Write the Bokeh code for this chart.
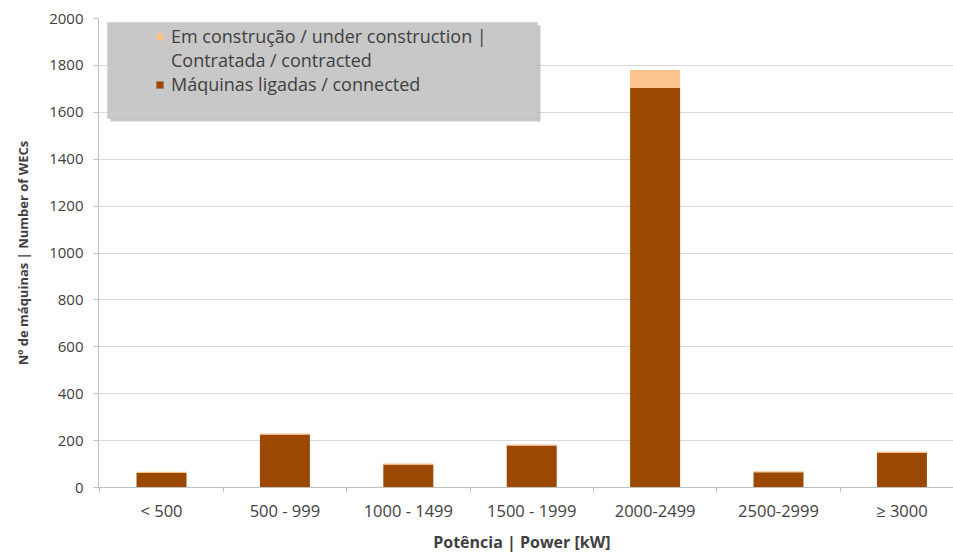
from bokeh.plotting import figure
from bokeh.models import (Range1d, FixedTicker, Legend, LegendItem, BoxAnnotation,
                          ColumnDataSource)
from bokeh.embed import file_html
from bokeh.resources import INLINE

# ---- data ----
categories = ["< 500", "500 - 999", "1000 - 1499", "1500 - 1999",
              "2000-2499", "2500-2999", "\u2265 3000"]
connected = [62, 226, 98, 179, 1705, 65, 148]
under_construction = [5, 4, 4, 4, 75, 4, 6]
y_ticks = [0, 200, 400, 600, 800, 1000, 1200, 1400, 1600, 1800, 2000]

label_construction = "Em constru\u00e7\u00e3o / under construction |"
label_contracted = "Contratada / contracted"
label_connected = "M\u00e1quinas ligadas / connected"

BROWN = "#9a4802"
PEACH = "#fbc38e"
TEXT = "#404040"
FONT = "Open Sans"

x = list(range(len(categories)))
source = ColumnDataSource(dict(x=x, connected=connected, construction=under_construction))

p = figure(width=953, height=556, output_backend="svg", toolbar_location=None,
           x_range=Range1d(-0.5105, 6.418), y_range=Range1d(0, 2000),
           min_border_left=98, min_border_right=0, min_border_top=18,
           min_border_bottom=69)
p.outline_line_color = None
p.background_fill_color = "white"
p.border_fill_color = "white"

rs = p.vbar_stack(["connected", "construction"], x="x", width=0.405, source=source,
                  fill_color=[BROWN, PEACH], line_color=None)

# axes
p.xaxis.ticker = FixedTicker(ticks=x, minor_ticks=[i - 0.5 for i in range(len(categories) + 1)])
p.xaxis.major_label_overrides = {i: c for i, c in enumerate(categories)}
p.xaxis.major_tick_out = 0
p.xaxis.major_tick_in = 0
p.xaxis.minor_tick_out = 5
p.xaxis.minor_tick_in = 0
p.xaxis.minor_tick_line_color = "#bfbfbf"
p.xaxis.axis_line_color = "#bfbfbf"
p.xaxis.major_label_standoff = 6
p.xaxis.axis_label = "Pot\u00eancia  |  Power [kW]"
p.xaxis.axis_label_standoff = 6

p.yaxis.ticker = FixedTicker(ticks=y_ticks)
p.yaxis.major_tick_out = 5
p.yaxis.major_tick_in = 0
p.yaxis.major_tick_line_color = "#bfbfbf"
p.yaxis.axis_line_color = "#bfbfbf"
p.yaxis.major_label_standoff = 10
p.yaxis.axis_label = "N\u00ba de m\u00e1quinas | Number of WECs"
p.yaxis.axis_label_standoff = 14

for ax in (p.xaxis[0], p.yaxis[0]):
    ax.major_label_text_font = FONT
    ax.major_label_text_color = TEXT
    ax.axis_label_text_font = FONT
    ax.axis_label_text_font_style = "bold"
    ax.axis_label_text_color = TEXT
p.xaxis.major_label_text_font_size = "16.5px"
p.yaxis.major_label_text_font_size = "15px"
p.xaxis.axis_label_text_font_size = "16px"
p.yaxis.axis_label_text_font_size = "13px"

p.xgrid.visible = False
p.ygrid.ticker = FixedTicker(ticks=y_ticks)
p.ygrid.grid_line_color = "#d9d9d9"

# legend box (gray panel with shadow)
shadow = BoxAnnotation(left=-0.414, right=3.071, top=1970, bottom=1561,
                       fill_color="#9a9a9a", fill_alpha=0.55, line_color=None)
panel = BoxAnnotation(left=-0.438, right=3.047, top=1983, bottom=1574,
                      fill_color="#c8c8c8", fill_alpha=1.0, line_color="#b4b4b4",
                      line_width=1)
p.add_layout(shadow)
p.add_layout(panel)

legend = Legend(items=[
    LegendItem(label=label_construction, renderers=[rs[1]]),
    LegendItem(label=label_contracted, renderers=[]),
    LegendItem(label=label_connected, renderers=[rs[0]]),
], location=(57, 391), background_fill_alpha=0, border_line_color=None,
    padding=0, margin=0, spacing=0, glyph_width=9, glyph_height=9,
    label_standoff=7, label_height=23, label_text_font=FONT,
    label_text_font_size="18px", label_text_color=TEXT)
p.add_layout(legend)

open("out.html", "w").write(file_html(p, INLINE))
